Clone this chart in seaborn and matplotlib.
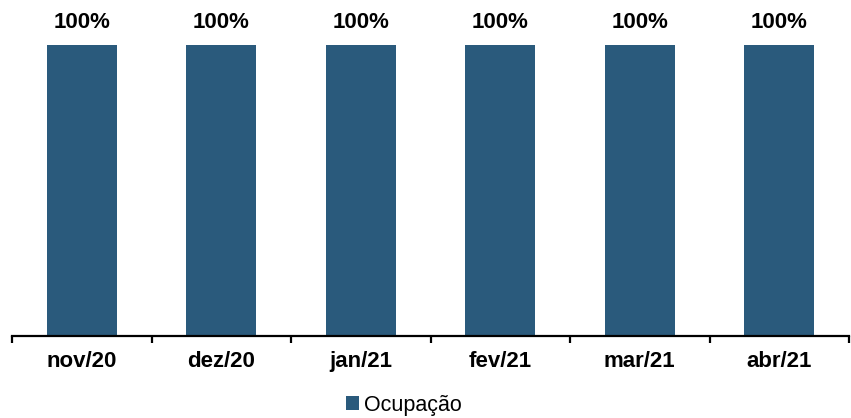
import matplotlib
matplotlib.use("Agg")
import matplotlib.pyplot as plt
from matplotlib.patches import Patch
import seaborn as sns
import pandas as pd

months = ["nov/20", "dez/20", "jan/21", "fev/21", "mar/21", "abr/21"]
occupancy = [100, 100, 100, 100, 100, 100]
series_name = "Ocupação"

bar_color = "#2A5A7C"

sns.set_style("white")
plt.rcParams["font.family"] = ["Liberation Sans", "DejaVu Sans"]
plt.rcParams["text.color"] = "black"
plt.rcParams["xtick.color"] = "black"

df = pd.DataFrame({"mes": months, "ocupacao": occupancy})

fig = plt.figure(figsize=(8.51, 4.18), dpi=100)
ax = fig.add_axes([12 / 851, 1 - 336 / 418, 837 / 851, (336 - 45) / 418])

sns.barplot(data=df, x="mes", y="ocupacao", color=bar_color, width=0.5,
            saturation=1, ax=ax, edgecolor="none")

ax.set_ylim(0, 100)
ax.set_xlim(-0.5, len(months) - 0.5)
ax.set_xlabel("")
ax.set_ylabel("")
ax.set_yticks([])

for sp in ["top", "right", "left"]:
    ax.spines[sp].set_visible(False)
ax.spines["bottom"].set_linewidth(1.6)
ax.spines["bottom"].set_color("black")

# category separators as short outward ticks on the base line
ax.set_xticks([i - 0.5 for i in range(len(months) + 1)], minor=True)
ax.tick_params(axis="x", which="minor", length=5, width=1.6, color="black",
               direction="out", bottom=True)
ax.tick_params(axis="x", which="major", length=0, pad=11, labelcolor="black")
for lbl in ax.get_xticklabels():
    lbl.set_fontsize(16)
    lbl.set_fontweight("bold")

for i, v in enumerate(occupancy):
    ax.text(i, v + 7.8, f"{v}%", ha="center", va="center", fontsize=16,
            fontweight="bold", color="black", clip_on=False)

handle = Patch(facecolor=bar_color, edgecolor="none")
leg = fig.legend([handle], [series_name], loc="center",
                 bbox_to_anchor=(404 / 851, 1 - 405 / 418),
                 frameon=False, fontsize=15.5, handlelength=0.6, handleheight=0.6,
                 handletextpad=0.25, borderpad=0)
for t in leg.get_texts():
    t.set_color("black")

fig.savefig("out.png", dpi=100)
